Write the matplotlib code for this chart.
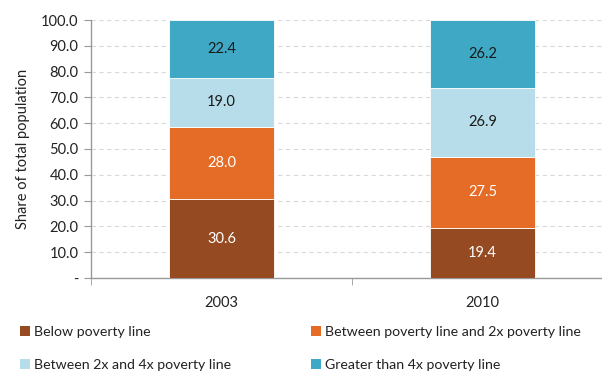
import numpy as np
from matplotlib import pyplot as plt
from matplotlib.patches import Patch

years = ["2003", "2010"]
series_names = ["Below poverty line",
                "Between poverty line and 2x poverty line",
                "Between 2x and 4x poverty line",
                "Greater than 4x poverty line"]
below = [30.6, 19.4]
between_1_2 = [28.0, 27.5]
between_2_4 = [19.0, 26.9]
above_4 = [22.4, 26.2]

colors = ["#954A22", "#E46C26", "#B6DDE9", "#3FA9C5"]
text_colors = ["white", "white", "#1a1a1a", "#1a1a1a"]

plt.rcParams['font.family'] = ['Lato', 'DejaVu Sans']
fs = 10.5

fig = plt.figure(figsize=(6.02, 3.73), dpi=100)
ax = fig.add_axes([91 / 602, 1 - 278 / 373, 522 / 602, 258 / 373])

x = np.arange(len(years))
bottom = np.zeros(len(years))
for vals, c, tc in zip([below, between_1_2, between_2_4, above_4], colors, text_colors):
    vals = np.array(vals)
    ax.bar(x, vals, 0.4, bottom=bottom, color=c, edgecolor="white", linewidth=0.6, zorder=3)
    for xi, b, v in zip(x, bottom, vals):
        ax.text(xi, b + v / 2, f"{v:.1f}", ha="center", va="center",
                fontsize=fs, color=tc, zorder=4)
    bottom += vals

ax.set_xlim(-0.5, 1.5)
ax.set_ylim(0, 100)
ax.set_yticks(np.arange(0, 101, 10))
ax.set_yticklabels(["-"] + [f"{v:.1f}" for v in range(10, 101, 10)])
ax.set_xticks(x)
ax.set_xticklabels(years)
ax.set_xticks([-0.5, 0.5, 1.5], minor=True)
ax.tick_params(axis="x", which="major", length=0, pad=13, labelsize=fs, labelcolor="#222222")
ax.tick_params(axis="x", which="minor", length=5, color="#999999")
ax.tick_params(axis="y", length=5, color="#999999", labelsize=fs, labelcolor="#222222", pad=4)
ax.yaxis.grid(True, color="#d9d9d9", linestyle=(0, (4, 3)), linewidth=0.8, zorder=0)

for side in ["top", "right"]:
    ax.spines[side].set_visible(False)
for side in ["left", "bottom"]:
    ax.spines[side].set_color("#999999")
    ax.spines[side].set_linewidth(1)

ax.set_ylabel("Share of total population", fontsize=fs, color="#222222", labelpad=8)

# two legend columns, placed separately
legend_fs = 10.2
for col, x0 in [([0, 2], 20 / 602), ([1, 3], 311 / 602)]:
    handles = [Patch(facecolor=colors[i], edgecolor="none") for i in col]
    labels = [series_names[i] for i in col]
    leg = fig.legend(handles, labels, loc="upper left", bbox_to_anchor=(x0, 1 - 326 / 373),
                     frameon=False, fontsize=legend_fs, handlelength=0.72, handleheight=0.72,
                     handletextpad=0.3, labelspacing=1.45, borderaxespad=0, borderpad=0)
    for t in leg.get_texts():
        t.set_color("#222222")

plt.savefig("out.png", dpi=100)
